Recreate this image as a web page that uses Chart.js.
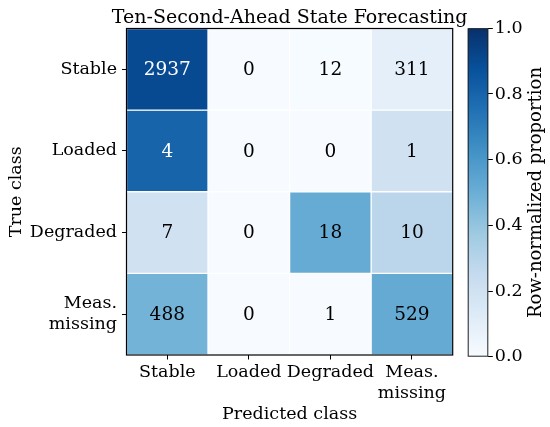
<!DOCTYPE html>
<html>
<head>
<meta charset="utf-8">
<script src="https://cdn.jsdelivr.net/npm/chart.js@4.4.1/dist/chart.umd.min.js"></script>
<style>
  html,body{margin:0;padding:0;background:#fff;}
  #wrap{position:relative;width:550px;height:427px;}
  #cm{position:absolute;left:0;top:0;}
  #cb{position:absolute;left:460px;top:0;}
</style>
</head>
<body>
<div id="wrap">
  <canvas id="cm" width="550" height="427"></canvas>
  <canvas id="cb" width="90" height="427"></canvas>
</div>
<script>
// ---- data ----
var trueClasses = ['Stable', 'Loaded', 'Degraded', ['Meas.', 'missing']];
var predClasses = ['Stable', 'Loaded', 'Degraded', ['Meas.', 'missing']];
var counts = [
  [2937, 0, 12, 311], // Stable
  [4, 0, 0, 1],       // Loaded
  [7, 0, 18, 10],     // Degraded
  [488, 0, 1, 529],   // Meas. missing
];
var cbTicks = [0, 0.2, 0.4, 0.6, 0.8, 1.0];

var FONT = "'DejaVu Serif', serif";

// matplotlib Blues
var bluesStops = ['#f7fbff', '#deebf7', '#c6dbef', '#9ecae1', '#6baed6', '#4292c6', '#2171b5', '#08519c', '#08306b'];

function hexRgb(h) {
  return [parseInt(h.substr(1, 2), 16), parseInt(h.substr(3, 2), 16), parseInt(h.substr(5, 2), 16)];
}

function blues(t) {
  t = Math.max(0, Math.min(1, t));
  var p = t * (bluesStops.length - 1);
  var i = Math.min(Math.floor(p), bluesStops.length - 2);
  var f = p - i;
  var a = hexRgb(bluesStops[i]), b = hexRgb(bluesStops[i + 1]);
  var c = a.map((v, k) => Math.round(v + (b[k] - v) * f));
  return 'rgb(' + c.join(',') + ')';
}

// one dataset per true-class row, floating bars spanning the row
var datasets = counts.map(function(row, i) {
  var tot = row.reduce((a, b) => a + b, 0);
  var props = row.map(v => tot ? v / tot : 0);
  return {
    label: 'row' + i,
    data: row.map(() => [i - 0.5, i + 0.5]),
    backgroundColor: props.map(p => blues(p)),
    borderColor: '#ffffff',
    borderWidth: 1,
    borderSkipped: false,
    grouped: false,
    barPercentage: 1,
    categoryPercentage: 1,
    counts: row,
    props: props,
  };
});

var cellText = {
  id: 'cellText',
  afterDatasetsDraw(chart) {
    var ctx = chart.ctx;
    ctx.save();
    ctx.font = '18.5px ' + FONT;
    ctx.textAlign = 'center';
    ctx.textBaseline = 'middle';
    chart.data.datasets.forEach((ds, i) => {
      chart.getDatasetMeta(i).data.forEach((bar, j) => {
        ctx.fillStyle = ds.props[j] > 0.7 ? '#ffffff' : '#000000';
        ctx.fillText(String(ds.counts[j]), bar.x, (bar.y + bar.base) / 2 + 1);
      });
    });
    ctx.restore();
  }
};

// frame + title centred on the heatmap (title is wider than the axes)
var frameBox = {
  id: 'frameBox',
  afterDraw(chart) {
    var a = chart.chartArea, ctx = chart.ctx;
    ctx.save();
    ctx.strokeStyle = '#000';
    ctx.lineWidth = 1.2;
    ctx.strokeRect(a.left, a.top, a.right - a.left, a.bottom - a.top);
    ctx.font = '19px ' + FONT;
    ctx.fillStyle = '#000';
    ctx.textAlign = 'center';
    ctx.textBaseline = 'alphabetic';
    ctx.fillText('Ten-Second-Ahead State Forecasting', (a.left + a.right) / 2, 22.6);
    ctx.restore();
  }
};

Chart.defaults.font.family = FONT;
Chart.defaults.color = '#000';

new Chart(document.getElementById('cm'), {
  type: 'bar',
  data: { labels: predClasses, datasets: datasets },
  options: {
    responsive: false,
    animation: false,
    layout: { padding: { left: 0, right: 97.3, top: 28.5, bottom: 0 } },
    plugins: {
      legend: { display: false },
      tooltip: { enabled: false },
      title: { display: false },
    },
    scales: {
      x: {
        type: 'category',
        offset: true,
        grid: { display: true, offset: false, drawOnChartArea: false, drawTicks: true, tickLength: 4.5, tickColor: '#000' },
        border: { display: false },
        ticks: { font: { size: 17.5 }, padding: 2, maxRotation: 0, autoSkip: false },
        title: { display: true, text: 'Predicted class', font: { size: 17.5 }, padding: { top: 0, bottom: 1.6 } },
        afterFit: (s) => { s.height = 72; },
      },
      y: {
        type: 'linear',
        min: -0.5,
        max: 3.5,
        reverse: true,
        afterBuildTicks: (s) => { s.ticks = trueClasses.map((c, i) => ({ value: i })); },
        grid: { display: true, drawOnChartArea: false, drawTicks: true, tickLength: 4.5, tickColor: '#000' },
        border: { display: false },
        ticks: { font: { size: 17.5 }, padding: 5, autoSkip: false, callback: (v, idx) => trueClasses[idx] },
        title: { display: true, text: 'True class', font: { size: 17.5 }, padding: { top: 6, bottom: 0 } },
        afterFit: (s) => { s.width = 126.5; },
      },
    },
  },
  plugins: [cellText, frameBox],
});

// ---- colorbar ----
var cbLabel = {
  id: 'cbLabel',
  afterDraw(chart) {
    var a = chart.chartArea, ctx = chart.ctx;
    ctx.save();
    ctx.strokeStyle = '#222';
    ctx.lineWidth = 1;
    ctx.strokeRect(a.left + 0.5, a.top + 0.5, a.right - a.left - 1, a.bottom - a.top - 1);
    ctx.translate(81, (a.top + a.bottom) / 2);
    ctx.rotate(-Math.PI / 2);
    ctx.font = '18px ' + FONT;
    ctx.fillStyle = '#000';
    ctx.textAlign = 'center';
    ctx.textBaseline = 'alphabetic';
    ctx.fillText('Row-normalized proportion', 0, 0);
    ctx.restore();
  }
};

new Chart(document.getElementById('cb'), {
  type: 'bar',
  data: {
    labels: [''],
    datasets: [{
      data: [[0, 1]],
      barPercentage: 1,
      categoryPercentage: 1,
      borderWidth: 0,
      backgroundColor: function(c) {
        var ca = c.chart.chartArea;
        if (!ca) return blues(0.5);
        var g = c.chart.ctx.createLinearGradient(0, ca.bottom, 0, ca.top);
        bluesStops.forEach((col, k) => g.addColorStop(k / (bluesStops.length - 1), col));
        return g;
      },
    }],
  },
  options: {
    responsive: false,
    animation: false,
    layout: { padding: { left: 7.7, right: 0, top: 28.3, bottom: 70.3 } },
    plugins: { legend: { display: false }, tooltip: { enabled: false }, title: { display: false } },
    scales: {
      x: { display: false },
      y: {
        position: 'right',
        min: 0,
        max: 1,
        afterBuildTicks: (s) => { s.ticks = cbTicks.map(v => ({ value: v })); },
        grid: { display: true, drawOnChartArea: false, drawTicks: true, tickLength: 4.5, tickColor: '#000' },
        border: { display: false },
        ticks: { font: { size: 17.5 }, padding: 2, callback: (v) => Number(v).toFixed(1) },
        afterFit: (s) => { s.width = 61.7; },
      },
    },
  },
  plugins: [cbLabel],
});
</script>
</body>
</html>
